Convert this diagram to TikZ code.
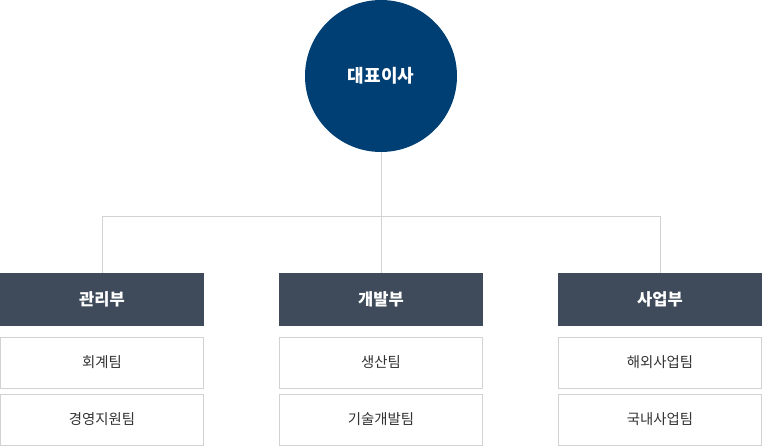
\documentclass[tikz,border=0pt]{standalone}
\usepackage{fontspec}
\setmainfont{Noto Sans CJK KR}
\definecolor{ceo}{HTML}{003F74}
\definecolor{dept}{HTML}{3F4B5A}
\definecolor{lineg}{HTML}{D2D2D2}
\definecolor{txt}{HTML}{333333}
\begin{document}
\begin{tikzpicture}[x=1pt,y=-1pt,
  ceonode/.style={circle,fill=ceo,minimum size=152pt,inner sep=0pt,text=white,font=\fontsize{18}{21}\selectfont\bfseries},
  deptbox/.style={rectangle,fill=dept,minimum width=204pt,minimum height=53pt,inner sep=0pt,text=white,font=\fontsize{16.5}{19}\selectfont\bfseries},
  teambox/.style={rectangle,draw=lineg,line width=1pt,fill=white,minimum width=203pt,minimum height=51pt,inner sep=0pt,text=txt,font=\fontsize{14.4}{17}\selectfont},
  conn/.style={draw=lineg,line width=1pt}]
\useasboundingbox (0,0) rectangle (762,447);
\node[ceonode] (ceo) at (381,76) {대표이사};
\node[deptbox] (d1) at (102,299.5) {관리부};
\node[deptbox] (d2) at (381,299.5) {개발부};
\node[deptbox] (d3) at (660,299.5) {사업부};
\node[teambox] (t11) at (102,362.5) {회계팀};
\node[teambox] (t12) at (102,419.5) {경영지원팀};
\node[teambox] (t21) at (381,362.5) {생산팀};
\node[teambox] (t22) at (381,419.5) {기술개발팀};
\node[teambox] (t31) at (660,362.5) {해외사업팀};
\node[teambox] (t32) at (660,419.5) {국내사업팀};
\coordinate (j) at (381,216);
\draw[conn] (ceo.south) -- (d2.north);
\draw[conn] (d1.north) -- (d1.north |- j) -- (d3.north |- j) -- (d3.north);
\end{tikzpicture}
\end{document}
